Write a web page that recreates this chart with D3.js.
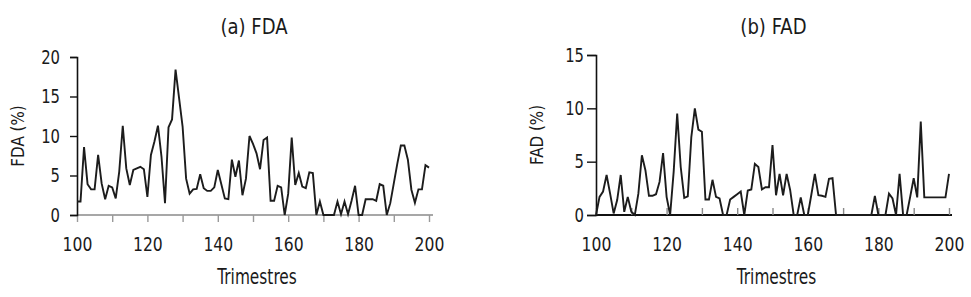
<!DOCTYPE html>
<html>
<head>
<meta charset="utf-8">
<style>
  body { margin: 0; background: white; }
  svg text {
    font-family: "DejaVu Sans", sans-serif;
    fill: #1a1a1a;
  }
</style>
<script src="https://cdn.jsdelivr.net/npm/d3@7"></script>
</head>
<body>
<svg id="chart" width="971" height="297"></svg>
<script>
  /* data: quarter number and percentage */
  let quarters = d3.range(100, 201)

  let fdaValues = [
    1.7, 1.7, 8.6, 3.9, 3.25, 3.25, 7.6, 4.0, 2.0, 3.7,
    3.5, 2.1, 5.5, 11.3, 5.9, 3.8, 5.7, 5.9, 6.1, 5.8,
    2.3, 7.6, 9.3, 11.3, 7.4, 1.5, 11.1, 12.1, 18.4, 14.8,
    11.2, 4.6, 2.7, 3.25, 3.3, 5.15, 3.4, 3.05, 3.05, 3.5,
    5.7, 3.9, 2.1, 2.0, 7.0, 4.85, 6.9, 2.5, 4.6, 10.0,
    9.0, 7.8, 5.8, 9.5, 9.8, 1.8, 1.8, 3.7, 3.5, 0,
    2.7, 9.8, 3.8, 5.3, 3.6, 3.4, 5.4, 5.3, 0, 1.7,
    0, 0, 0, 0, 1.7, 0.1, 1.7, 0.1, 1.8, 3.7,
    0, 0, 2.0, 2.0, 2.0, 1.8, 3.9, 3.7, 0, 1.5,
    4.0, 6.5, 8.8, 8.8, 7.0, 3.2, 1.55, 3.25, 3.25, 6.3,
    6.0
  ]

  let fadValues = [
    0, 1.7, 2.2, 3.75, 2.0, 0.15, 1.4, 3.75, 0.3, 1.7,
    0.3, 0, 2.0, 5.6, 4.2, 1.8, 1.8, 1.95, 3.1, 5.8,
    1.7, 0, 4.05, 9.5, 4.5, 1.6, 1.75, 7.3, 10.0, 8.0,
    7.8, 1.45, 1.45, 3.3, 1.7, 1.55, 0, 0, 1.45, 1.7,
    1.95, 2.2, 0, 2.3, 2.4, 4.8, 4.5, 2.4, 2.6, 2.6,
    6.55, 1.85, 3.85, 1.85, 3.85, 2.35, 0, 0, 1.65, 0,
    0, 1.9, 3.85, 1.85, 1.8, 1.7, 3.4, 3.45, 0, 0,
    0, 0, 0, 0, 0, 0, 0, 0, 0, 1.8,
    0, 0, 0, 2.0, 1.55, 0, 3.85, 0, 0, 1.7,
    3.45, 1.65, 8.75, 1.65, 1.65, 1.65, 1.65, 1.65, 1.65, 1.65,
    3.85
  ]

  let xTicks = d3.range(100, 201, 10)
  let xLabels = [100, 120, 140, 160, 180, 200]
  let fdaTicks = [0, 5, 10, 15, 20]
  let fadTicks = [0, 5, 10, 15]

  let svg = d3.select("#chart")

  // the original uses a condensed face; squeeze DejaVu horizontally
  function condense(sel, k) {
    sel.each(function () {
      let t = d3.select(this)
      let x = +t.attr("x") || 0
      t.attr("x", x / k).attr("transform", `scale(${k},1)`)
    })
  }

  function getPanelConfig(left, right, top, bottom, yMax) {
    let xScale = d3.scaleLinear().domain([100, 200]).range([left, right])
    let yScale = d3.scaleLinear().domain([0, yMax]).range([bottom, top])
    return { xScale, yScale, left, right, top, bottom }
  }

  function drawLine(values, cfg) {
    let line = d3.line()
      .x((d, i) => cfg.xScale(quarters[i]))
      .y(d => cfg.yScale(d))
    svg.append("path")
      .datum(values)
      .attr("d", line)
      .attr("fill", "none")
      .attr("stroke", "#1c1c1c")
      .attr("stroke-width", 1.9)
  }

  function drawTexts(cfg, title, yTitle) {
    let cx = (cfg.left + cfg.right) / 2
    svg.append("text")
      .attr("transform", `translate(${cx + 1},34) scale(0.86,1)`)
      .attr("text-anchor", "middle")
      .style("font-size", "21px")
      .text(title)
    svg.append("text")
      .attr("transform", `translate(${cx + 4},284) scale(0.7,1)`)
      .attr("text-anchor", "middle")
      .style("font-size", "22px")
      .text("Trimestres")
    svg.append("text")
      .attr("transform", `translate(${cfg.left - 53},${(cfg.top + cfg.bottom) / 2}) rotate(-90) scale(0.84,1)`)
      .attr("text-anchor", "middle")
      .style("font-size", "18px")
      .text(yTitle)
  }

  function styleAxis(g, domainColor, domainWidth, tickColor) {
    g.select(".domain").attr("stroke", domainColor).attr("stroke-width", domainWidth)
    g.selectAll(".tick line").attr("stroke", tickColor).attr("stroke-width", 1.4)
  }

  /* (a) FDA */
  let fda = getPanelConfig(77, 429, 57, 215, 20)

  let fdaX = svg.append("g")
    .attr("transform", `translate(0,${fda.bottom})`)
    .call(d3.axisBottom(fda.xScale)
      .tickValues(xTicks)
      .tickSize(7)
      .tickPadding(15)
      .tickFormat(d => xLabels.includes(d) ? d : ""))
  styleAxis(fdaX, "#8a8a8a", 1.6, "#9a9a9a")
  fdaX.select(".domain").attr("d", `M${fda.left},0H${fda.right + 4}`)
  fdaX.selectAll(".tick text").style("font-size", "20px").call(condense, 0.78)

  let fdaY = svg.append("g")
    .attr("transform", `translate(${fda.left},0)`)
    .call(d3.axisLeft(fda.yScale).tickValues(fdaTicks).tickSize(7).tickPadding(10))
  styleAxis(fdaY, "#111", 1.6, "#111")
  fdaY.selectAll(".tick text").style("font-size", "19px").call(condense, 0.78)

  drawLine(fdaValues, fda)
  drawTexts(fda, "(a) FDA", "FDA (%)")

  /* (b) FAD */
  let fad = getPanelConfig(596, 949, 55, 215, 15)

  let fadX = svg.append("g")
    .attr("transform", `translate(0,${fad.bottom})`)
    .call(d3.axisBottom(fad.xScale)
      .tickValues(xTicks)
      .tickSize(-7)
      .tickPadding(22)
      .tickFormat(d => xLabels.includes(d) ? d : ""))
  styleAxis(fadX, "#111", 2, "#8a8a8a")
  fadX.select(".domain").attr("d", `M${fad.left},0H${fad.right + 3}`)
  fadX.selectAll(".tick text").style("font-size", "20px").call(condense, 0.78)

  let fadY = svg.append("g")
    .attr("transform", `translate(${fad.left},0)`)
    .call(d3.axisLeft(fad.yScale).tickValues(fadTicks).tickSize(9).tickPadding(3))
  styleAxis(fadY, "#111", 1.6, "#111")
  fadY.selectAll(".tick text").style("font-size", "19px").call(condense, 0.78)

  drawLine(fadValues, fad)
  drawTexts(fad, "(b) FAD", "FAD (%)")
</script>
</body>
</html>
